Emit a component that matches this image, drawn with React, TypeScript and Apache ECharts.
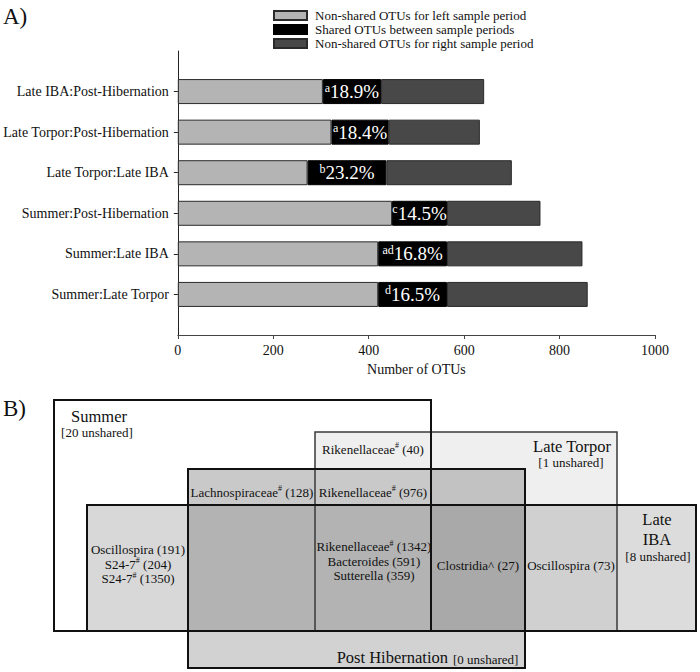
import React, { useEffect, useRef } from 'react';
import * as echarts from 'echarts';

const SERIF = 'Liberation Serif';

// ---------- Panel A data (bottom to top) ----------
const categories = [
  'Summer:Late Torpor',
  'Summer:Late IBA',
  'Summer:Post-Hibernation',
  'Late Torpor:Late IBA',
  'Late Torpor:Post-Hibernation',
  'Late IBA:Post-Hibernation',
];
const leftValues = [420, 420, 449, 272, 322, 304];
const sharedValues = [144, 144, 115, 165, 120, 122];
const rightValues = [295, 284, 196, 263, 191, 216];
const sigLetters = ['d', 'ad', 'c', 'b', 'a', 'a'];
const sharedPercents = ['16.5%', '16.8%', '14.5%', '23.2%', '18.4%', '18.9%'];
const seriesNames = [
  'Non-shared OTUs for left sample period',
  'Shared OTUs between sample periods',
  'Non-shared OTUs for right sample period',
];
const seriesColors = ['#b4b4b4', '#000000', '#484848'];
const xMin = 0;
const xMax = 1000;
const xInterval = 200;
const xName = 'Number of OTUs';

// ---------- Panel B data ----------
const vennSets = ['Summer', 'Late Torpor', 'Post Hibernation', 'Late IBA'];
const unsharedCounts = [20, 1, 0, 8];
const regionTaxaSummerLT = [['Rikenellaceae', '#', ' (40)']];
const regionTaxaSummerPH = [['Lachnospiraceae', '#', ' (128)']];
const regionTaxaSummerLTPH = [['Rikenellaceae', '#', ' (976)']];
const regionTaxaSummerLIBA = [
  ['Oscillospira (191)', '', ''],
  ['S24-7', '#', ' (204)'],
  ['S24-7', '#', ' (1350)'],
];
const regionTaxaAll = [
  ['Rikenellaceae', '#', ' (1342)'],
  ['Bacteroides (591)', '', ''],
  ['Sutterella (359)', '', ''],
];
const regionTaxaLTPHLIBA = [['Clostridia^ (27)', '', '']];
const regionTaxaLTLIBA = [['Oscillospira (73)', '', '']];

// layout of the diagram (pixel positions)
const X = { sL: 54, libaL: 87, phL: 188, ltL: 315, sR: 431, phR: 525, ltR: 617, libaR: 696 };
const Y = { sT: 400, ltT: 432, phT: 469, libaT: 505, bot: 631, phB: 668 };

function rect(x1: number, y1: number, x2: number, y2: number, fill: string, stroke?: string, lw?: number) {
  return {
    type: 'rect',
    silent: true,
    shape: { x: x1, y: y1, width: x2 - x1, height: y2 - y1 },
    style: { fill, stroke: stroke || null, lineWidth: lw || 0 },
  };
}

function richText(x: number, y: number, text: string, rich: any, align = 'center') {
  return {
    type: 'text',
    silent: true,
    style: {
      x,
      y,
      text,
      fill: '#111',
      fontFamily: SERIF,
      font: `13px ${SERIF}`,
      align,
      verticalAlign: 'middle',
      textAlign: align,
      textVerticalAlign: 'middle',
      rich,
    },
  };
}

function tok(size: number, lh: number, va = 'middle') {
  return { fontSize: size, fontFamily: SERIF, fill: '#111', color: '#111', lineHeight: lh, verticalAlign: va };
}

function plainText(x: number, y: number, text: string, size: number, align = 'center') {
  return richText(x, y, `{t|${text}}`, { t: tok(size, size) }, align);
}

function taxaText(cx: number, cy: number, lines: string[][]) {
  const str = lines
    .map(([a, s, b]) => `{a|${a}}` + (s ? `{s|${s}}` : '') + (b ? `{a|${b}}` : ''))
    .join('\n');
  return richText(cx, cy, str, { a: tok(13, 14.5), s: tok(8, 14.5, 'top') });
}

function buildGraphic() {
  const g: any[] = [];
  g.push(plainText(3, 16, 'A)', 23, 'left'));
  g.push(plainText(3, 408, 'B)', 23, 'left'));
  // base set fills
  g.push(rect(X.sL, Y.sT, X.sR, Y.bot, '#ffffff'));
  g.push(rect(X.ltL, Y.ltT, X.ltR, Y.bot, '#efefef'));
  g.push(rect(X.libaL, Y.libaT, X.libaR, Y.bot, '#dcdcdc'));
  g.push(rect(X.phL, Y.phT, X.phR, Y.phB, '#d2d2d2'));
  // intersections
  g.push(rect(X.phL, Y.phT, X.sR, Y.libaT, '#c9c9c9'));
  g.push(rect(X.sR, Y.phT, X.phR, Y.libaT, '#c2c2c2'));
  g.push(rect(X.libaL, Y.libaT, X.phL, Y.bot, '#d8d8d8'));
  g.push(rect(X.phL, Y.libaT, X.sR, Y.bot, '#b3b3b3'));
  g.push(rect(X.sR, Y.libaT, X.phR, Y.bot, '#a9a9a9'));
  g.push(rect(X.phR, Y.libaT, X.ltR, Y.bot, '#d0d0d0'));
  // outlines
  g.push(rect(X.ltL, Y.ltT, X.ltR, Y.bot, 'none', '#3a3a3a', 1.5));
  g.push(rect(X.sL, Y.sT, X.sR, Y.bot, 'none', '#111', 2));
  g.push(rect(X.libaL, Y.libaT, X.libaR, Y.bot, 'none', '#111', 2));
  g.push(rect(X.phL, Y.phT, X.phR, Y.phB, 'none', '#111', 2));
  // set names
  g.push(plainText(99, 416, vennSets[0], 16.5));
  g.push(plainText(97, 432, `[${unsharedCounts[0]} unshared]`, 13));
  g.push(plainText(572, 446, vennSets[1], 16.5));
  g.push(plainText(571, 462, `[${unsharedCounts[1]} unshared]`, 13));
  g.push(plainText(448, 657, vennSets[2], 16.5, 'right'));
  g.push(plainText(453, 659, `[${unsharedCounts[2]} unshared]`, 13, 'left'));
  const [w1, w2] = vennSets[3].split(' ');
  g.push(plainText(657, 519, w1, 16.5));
  g.push(plainText(657, 539, w2, 16.5));
  g.push(plainText(658, 556, `[${unsharedCounts[3]} unshared]`, 13));
  // taxa
  g.push(taxaText(373, 449, regionTaxaSummerLT));
  g.push(taxaText(252, 492, regionTaxaSummerPH));
  g.push(taxaText(373, 492, regionTaxaSummerLTPH));
  g.push(taxaText(138, 564, regionTaxaSummerLIBA));
  g.push(taxaText(374, 561, regionTaxaAll));
  g.push(taxaText(478, 565, regionTaxaLTPHLIBA));
  g.push(taxaText(571, 565, regionTaxaLTLIBA));
  return g;
}

export default function App() {
  const ref = useRef<HTMLDivElement>(null);
  useEffect(() => {
    if (!ref.current) return;
    const chart = echarts.init(ref.current, undefined, { renderer: 'svg' });
    const cats = ['', ...categories, ''];
    const pad = (arr: number[]) => ['-', ...arr, '-'];
    const valueSets = [leftValues, sharedValues, rightValues];
    const series = valueSets.map((vals, i) => ({
      name: seriesNames[i],
      type: 'bar',
      stack: 'otu',
      barWidth: 25,
      data: pad(vals),
      itemStyle: {
        color: seriesColors[i],
        borderColor: i === 1 ? '#000' : '#2a2a2a',
        borderWidth: 1,
      },
      label:
        i === 1
          ? {
              show: true,
              position: 'inside',
              formatter: (p: any) =>
                `{s|${sigLetters[p.dataIndex - 1]}}{p|${sharedPercents[p.dataIndex - 1]}}`,
              rich: {
                s: { fontSize: 12, color: '#fff', fontFamily: SERIF, verticalAlign: 'top', lineHeight: 20 },
                p: { fontSize: 19, color: '#fff', fontFamily: SERIF, lineHeight: 20 },
              },
            }
          : { show: false },
    }));
    chart.setOption({
      animation: false,
      backgroundColor: '#ffffff',
      textStyle: { fontFamily: SERIF },
      legend: {
        orient: 'vertical',
        left: 268,
        top: 4,
        itemWidth: 33,
        itemHeight: 9,
        itemGap: 1,
        icon: 'rect',
        data: seriesNames,
        selectedMode: false,
        textStyle: { fontFamily: SERIF, fontSize: 13, color: '#111', padding: [0, 0, 0, 3] },
      },
      grid: { left: 175, right: 45, top: 51, bottom: 337, containLabel: false },
      xAxis: {
        type: 'value',
        min: xMin,
        max: xMax,
        interval: xInterval,
        name: xName,
        nameLocation: 'middle',
        nameGap: 27,
        nameTextStyle: { fontFamily: SERIF, fontSize: 14, color: '#111' },
        axisLine: { show: true, lineStyle: { color: '#444', width: 1 } },
        axisTick: { show: true, length: 4, lineStyle: { color: '#444' } },
        axisLabel: {
          fontFamily: SERIF,
          fontSize: 14,
          color: '#111',
          margin: 8,
          formatter: (v: number) => String(v),
        },
        splitLine: { show: false },
      },
      yAxis: {
        type: 'category',
        data: cats,
        boundaryGap: false,
        axisLine: { show: true, lineStyle: { color: '#222', width: 1 } },
        axisTick: {
          show: true,
          length: 4,
          interval: (idx: number) => idx > 0 && idx < cats.length - 1,
          lineStyle: { color: '#222' },
        },
        axisLabel: { interval: 0, fontFamily: SERIF, fontSize: 14, color: '#111', margin: 9 },
        splitLine: { show: false },
      },
      series,
      graphic: buildGraphic(),
    });
    return () => chart.dispose();
  }, []);
  return (
    <div
      ref={ref}
      style={{ position: 'fixed', left: 0, top: 0, width: 700, height: 672, background: '#fff' }}
    />
  );
}
